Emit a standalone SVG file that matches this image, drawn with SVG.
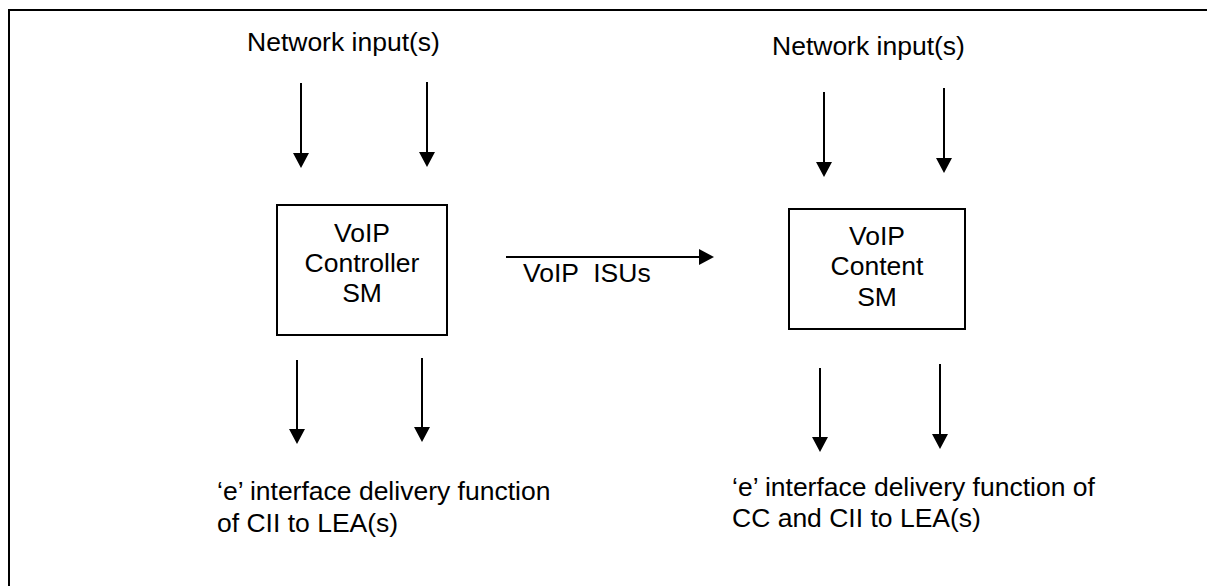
<svg xmlns="http://www.w3.org/2000/svg" width="1207" height="586" viewBox="0 0 1207 586">
<style>
  .t { font-family: "Liberation Sans", Arial, sans-serif; font-size: 26.5px; fill: #000; }
  .c { text-anchor: middle; }
  .box { fill: #fff; stroke: #000; stroke-width: 2; }
  .ln { stroke: #000; stroke-width: 2; fill: none; marker-end: url(#ah); }
</style>
<defs>
  <marker id="ah" markerUnits="userSpaceOnUse" markerWidth="16" markerHeight="16" refX="0" refY="8" orient="auto">
    <path d="M0,0 L15,8 L0,16 z" fill="#000"/>
  </marker>
</defs>
<rect width="1207" height="586" fill="#fff"/>
<rect id="frame" x="9" y="10" width="1220" height="600" fill="none" stroke="#000" stroke-width="2"/>

<g id="connectors">
  <line class="ln" x1="301" y1="83" x2="301" y2="153"/>
  <line class="ln" x1="427" y1="82" x2="427" y2="152"/>
  <line class="ln" x1="824" y1="92" x2="824" y2="162"/>
  <line class="ln" x1="944" y1="88" x2="944" y2="158"/>
  <line class="ln" x1="506" y1="257" x2="699" y2="257"/>
  <line class="ln" x1="297" y1="360" x2="297" y2="429"/>
  <line class="ln" x1="422" y1="358" x2="422" y2="427"/>
  <line class="ln" x1="820" y1="368" x2="820" y2="437"/>
  <line class="ln" x1="940" y1="364" x2="940" y2="434"/>
  <text class="t" x="523" y="282" xml:space="preserve">VoIP  ISUs</text>
</g>

<g id="input-left">
  <text class="t" x="247" y="51">Network input(s)</text>
</g>
<g id="input-right">
  <text class="t" x="772" y="55">Network input(s)</text>
</g>

<g id="controller-sm">
  <rect class="box" x="277" y="205" width="170" height="130"/>
  <text class="t c" x="362" y="242">VoIP</text>
  <text class="t c" x="362" y="272">Controller</text>
  <text class="t c" x="362" y="302">SM</text>
</g>

<g id="content-sm">
  <rect class="box" x="789" y="209" width="176" height="120"/>
  <text class="t c" x="877" y="245">VoIP</text>
  <text class="t c" x="877" y="275">Content</text>
  <text class="t c" x="877" y="306">SM</text>
</g>

<g id="output-left">
  <text class="t" x="217" y="500">‘e’ interface delivery function</text>
  <text class="t" x="217" y="532">of CII to LEA(s)</text>
</g>
<g id="output-right">
  <text class="t" x="732" y="496">‘e’ interface delivery function of</text>
  <text class="t" x="732" y="527">CC and CII to LEA(s)</text>
</g>
</svg>
